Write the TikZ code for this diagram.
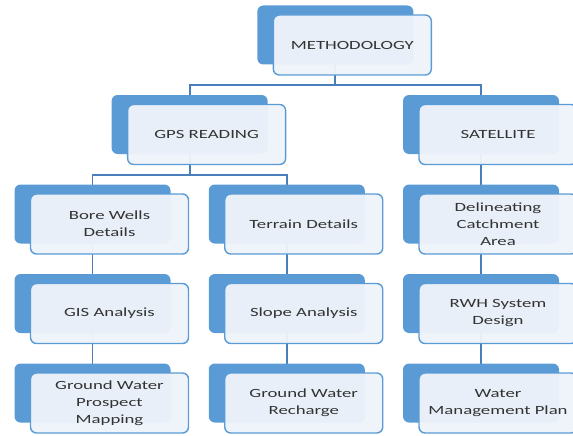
\documentclass[tikz,border=0pt]{standalone}
\usepackage{fontspec}
\setmainfont{Carlito}[FakeStretch=1.5]
\usetikzlibrary{calc, positioning, backgrounds}
\definecolor{boxblue}{HTML}{5B9BD5}
\definecolor{boxface}{HTML}{EEF3FA}
\definecolor{linkblue}{HTML}{4A7EBB}
\definecolor{labelgrey}{HTML}{333333}

\begin{document}
\begin{tikzpicture}
	[x=1pt, y=1pt,
	 back/.style={fill=boxblue, rounded corners=6pt, minimum width=156pt, minimum height=59pt, inner sep=0pt, outer sep=0pt},
	 face/.style={draw=boxblue, line width=1.4pt, fill=boxface, fill opacity=0.96, text opacity=1, rounded corners=6pt, minimum width=158pt, minimum height=60pt, inner sep=0pt, align=center, text=labelgrey, font=\fontsize{12.5}{17}\selectfont},
	 link/.style={draw=linkblue, line width=1.8pt},
	 node distance=30.5pt and 38.25pt]
	\useasboundingbox (0,0) rectangle (573,-436);
	\clip (0,0) rectangle (573,-436);
	
	\node[back] (bore) at (92.5,-214) {};
	\node[back, right=of bore] (terr) {};
	\node[back, right=of terr] (delin) {};
	\node[back, below=of bore] (gis) {};
	\node[back, below=of terr] (slope) {};
	\node[back, below=of delin] (rwh) {};
	\node[back, below=of gis] (gwpm) {};
	\node[back, below=of slope] (gwr) {};
	\node[back, below=of rwh] (wmp) {};
	\node[back] (gps) at ($(bore)!0.5!(terr) + (0,89.5)$) {};
	\node[back, above=of delin] (sat) {};
	\node[back] (meth) at ($(gps)!0.5!(sat) + (0,89.5)$) {};
	
	\node[face] (meth f) at ($(meth)+(17,-10)$) {METHODOLOGY};
	\node[face] (gps f) at ($(gps)+(17,-10)$) {GPS READING};
	\node[face] (sat f) at ($(sat)+(17,-10)$) {SATELLITE};
	\node[face] (bore f) at ($(bore)+(17,-10)$) {Bore Wells\\Details};
	\node[face] (terr f) at ($(terr)+(17,-10)$) {Terrain Details};
	\node[face] (delin f) at ($(delin)+(17,-10)$) {Delineating\\Catchment\\Area};
	\node[face] (gis f) at ($(gis)+(17,-10)$) {GIS Analysis};
	\node[face] (slope f) at ($(slope)+(17,-10)$) {Slope Analysis};
	\node[face] (rwh f) at ($(rwh)+(17,-10)$) {RWH System\\Design};
	\node[face] (gwpm f) at ($(gwpm)+(17,-10)$) {Ground Water\\Prospect\\Mapping};
	\node[face] (gwr f) at ($(gwr)+(17,-10)$) {Ground Water\\Recharge};
	\node[face] (wmp f) at ($(wmp)+(17,-10)$) {Water\\Management Plan};
	
	\begin{scope}[on background layer]
		\coordinate (bus1) at ($(meth f.south)!0.5!(gps.north)$);
		\coordinate (bus2) at ($(gps f.south)!0.5!(bore.north)$);
		\draw[link] (meth) -- (meth |- bus1);
		\draw[link] (gps) |- (meth |- bus1) -| (sat);
		\draw[link] (gps) -- (gps |- bus2);
		\draw[link] (bore) |- (gps |- bus2) -| (terr);
		\draw[link] (sat) -- (delin);
		\draw[link] (bore) -- (gis);
		\draw[link] (gis) -- (gwpm);
		\draw[link] (terr) -- (slope);
		\draw[link] (slope) -- (gwr);
		\draw[link] (delin) -- (rwh);
		\draw[link] (rwh) -- (wmp);
	\end{scope}
\end{tikzpicture}
\end{document}
